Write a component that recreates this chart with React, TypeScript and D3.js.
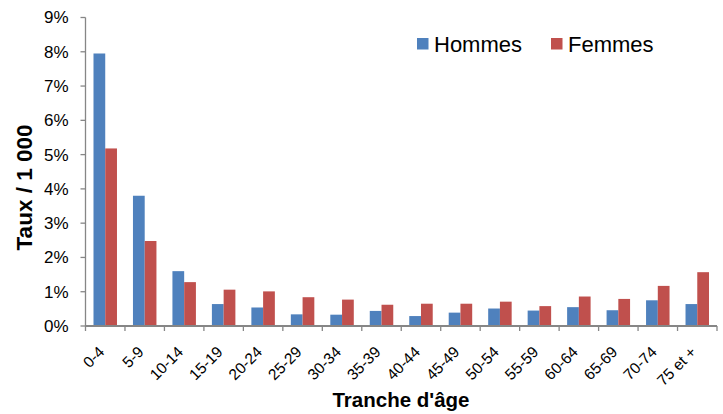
import { useEffect, useRef } from "react";
import * as d3 from "d3";

const categories = [
  "0-4", "5-9", "10-14", "15-19", "20-24", "25-29", "30-34", "35-39",
  "40-44", "45-49", "50-54", "55-59", "60-64", "65-69", "70-74", "75 et +",
];
const hommes = [7.95, 3.8, 1.6, 0.64, 0.54, 0.34, 0.33, 0.44, 0.29, 0.39, 0.51, 0.45, 0.55, 0.46, 0.75, 0.64];
const femmes = [5.18, 2.48, 1.28, 1.06, 1.01, 0.84, 0.77, 0.62, 0.65, 0.65, 0.71, 0.58, 0.86, 0.79, 1.17, 1.57];
const seriesNames = ["Hommes", "Femmes"];
const seriesColors = ["#4F81BD", "#C0504D"];
const yTicks = [0, 1, 2, 3, 4, 5, 6, 7, 8, 9];

const W = 723;
const H = 414;
const M = { top: 17.5, right: 6, bottom: 88, left: 85.5 };
const FONT = "'Liberation Sans', Arial, sans-serif";
const AXIS = "#868686";

export default function App() {
  const svgRef = useRef<SVGSVGElement>(null);

  useEffect(() => {
    if (!svgRef.current) return;
    const svg = d3.select(svgRef.current);
    svg.selectAll("*").remove();

    const x0 = M.left;
    const x1 = W - M.right;
    const y0 = H - M.bottom;

    const x = d3.scaleBand<string>().domain(categories).range([x0, x1]).paddingInner(0.405).paddingOuter(0.2025);
    const xs = d3.scaleBand<string>().domain(seriesNames).range([0, x.bandwidth()]);
    const y = d3.scaleLinear().domain([0, 9]).range([y0, M.top]);

    const data = [hommes, femmes];

    // bars
    seriesNames.forEach((name, s) => {
      svg
        .append("g")
        .selectAll("rect")
        .data(data[s])
        .join("rect")
        .attr("x", (_, i) => (x(categories[i]) ?? 0) + (xs(name) ?? 0))
        .attr("y", (d) => y(d))
        .attr("width", xs.bandwidth())
        .attr("height", (d) => y0 - y(d))
        .attr("fill", seriesColors[s]);
    });

    // y axis
    const ya = svg.append("g").attr("transform", `translate(${x0},0)`);
    ya.append("line").attr("x1", 0).attr("x2", 0).attr("y1", y(9)).attr("y2", y0).attr("stroke", AXIS).attr("stroke-width", 1.3);
    yTicks.forEach((t) => {
      ya.append("line").attr("x1", -5).attr("x2", 0).attr("y1", y(t)).attr("y2", y(t)).attr("stroke", AXIS).attr("stroke-width", 1.3);
      ya.append("text")
        .attr("x", -17)
        .attr("y", y(t))
        .attr("dy", "0.35em")
        .attr("text-anchor", "end")
        .attr("font-family", FONT)
        .attr("font-size", 17)
        .attr("fill", "#000")
        .text(`${t}%`);
    });

    // x axis
    const xa = svg.append("g");
    xa.append("line").attr("x1", x0).attr("x2", x1).attr("y1", y0).attr("y2", y0).attr("stroke", AXIS).attr("stroke-width", 2);
    const step = x.step();
    d3.range(categories.length + 1).forEach((i) => {
      const px = x0 + i * step;
      xa.append("line").attr("x1", px).attr("x2", px).attr("y1", y0).attr("y2", y0 + 5).attr("stroke", AXIS).attr("stroke-width", 1.3);
    });
    categories.forEach((c) => {
      const cx = (x(c) ?? 0) + x.bandwidth() / 2;
      xa.append("text")
        .attr("transform", `translate(${cx},${y0 + 27}) rotate(-45)`)
        .attr("text-anchor", "end")
        .attr("font-family", FONT)
        .attr("font-size", 15.5)
        .attr("fill", "#000")
        .text(c);
    });

    // axis titles
    svg.append("text")
      .attr("x", 401)
      .attr("y", 407)
      .attr("text-anchor", "middle")
      .attr("font-family", FONT)
      .attr("font-weight", "bold")
      .attr("font-size", 20.5)
      .text("Tranche d'âge");

    svg.append("text")
      .attr("transform", `translate(31.5,187.5) rotate(-90)`)
      .attr("text-anchor", "middle")
      .attr("font-family", FONT)
      .attr("font-weight", "bold")
      .attr("font-size", 22.5)
      .text("Taux / 1 000");

    // legend
    const legX = [417, 551];
    seriesNames.forEach((name, s) => {
      const g = svg.append("g").attr("transform", `translate(${legX[s]},38)`);
      g.append("rect").attr("width", 11.5).attr("height", 11.5).attr("fill", seriesColors[s]);
      g.append("text")
        .attr("x", 17)
        .attr("y", 13.5)
        .attr("font-family", FONT)
        .attr("font-size", 22)
        .attr("fill", "#000")
        .text(name);
    });
  }, []);

  return (
    <svg
      ref={svgRef}
      width={W}
      height={H}
      style={{ position: "absolute", left: 0, top: 0, background: "#fff" }}
    />
  );
}
